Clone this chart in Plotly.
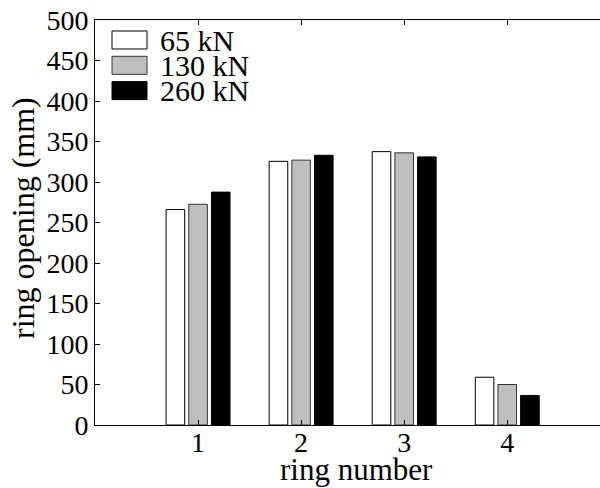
import plotly.graph_objects as go

rings = [1, 2, 3, 4]
series_names = ["65 kN", "130 kN", "260 kN"]
v65 = [266, 325.5, 337.5, 59]
v130 = [272.5, 327, 336, 50]
v260 = [287.5, 333, 331, 36.5]
y_ticks = [0, 50, 100, 150, 200, 250, 300, 350, 400, 450, 500]
x_title = "ring number"
y_title = "ring opening (mm)"

fills = ["white", "#bfbfbf", "black"]
edges = ["black", "#333333", "black"]
FONT = "Liberation Serif"
PW, PH = 505, 405  # plot area size in px

fig = go.Figure()
for name, vals, fc, ec in zip(series_names, [v65, v130, v260], fills, edges):
    fig.add_trace(go.Bar(x=rings, y=vals, name=name, marker=dict(color=fc, line=dict(color=ec, width=1)),
                         showlegend=False))

# manual legend (large swatches)
for i, (name, fc, ec) in enumerate(zip(series_names, fills, edges)):
    y0 = 1 - (11 + i * 25.3) / PH
    y1 = y0 - 18 / PH
    fig.add_shape(type="rect", xref="paper", yref="paper",
                  x0=17 / PW, x1=52 / PW, y0=y1, y1=y0,
                  fillcolor=fc, line=dict(color=ec, width=1))
    fig.add_annotation(xref="paper", yref="paper", x=63 / PW, y=(y0 + y1) / 2,
                       text=name, showarrow=False, xanchor="left", yanchor="middle",
                       font=dict(family=FONT, size=30, color="black"))

# axis titles
fig.add_annotation(xref="paper", yref="paper", x=(356 - 95) / PW, y=-(469 - 425) / PH,
                   text=x_title, showarrow=False, xanchor="center", yanchor="middle",
                   font=dict(family=FONT, size=31, color="black"))
fig.add_annotation(xref="paper", yref="paper", x=(23 - 95) / PW, y=(425 - 218) / PH,
                   text=y_title, showarrow=False, xanchor="center", yanchor="middle", textangle=-90,
                   font=dict(family=FONT, size=32, color="black"))

fig.update_layout(
    width=600, height=488,
    margin=dict(l=95, r=0, t=20, b=63),
    paper_bgcolor="white", plot_bgcolor="white",
    barmode="group", bargap=0.34, bargroupgap=0.18,
    font=dict(family=FONT, size=28, color="black"),
    xaxis=dict(range=[0, 4.9], tickvals=rings, ticktext=[str(r) for r in rings],
               showline=True, linecolor="black", linewidth=1, mirror="ticks",
               ticks="inside", ticklen=5, tickcolor="black", showgrid=False, zeroline=False,
               ticklabelstandoff=-8),
    yaxis=dict(range=[0, 500], tickvals=y_ticks, showline=True, linecolor="black", linewidth=1,
               mirror=False, ticks="inside", ticklen=5, tickcolor="black", showgrid=False, zeroline=False),
)

fig.write_html("out.html")
